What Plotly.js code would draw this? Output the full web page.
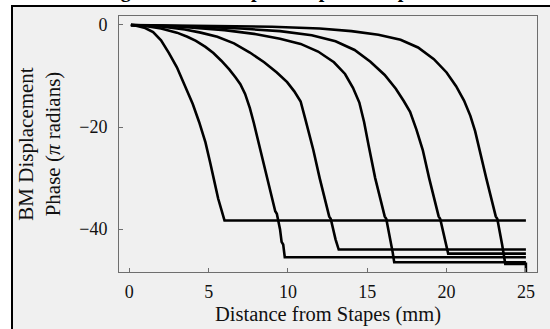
<!DOCTYPE html>
<html>
<head>
<meta charset="utf-8">
<script src="https://cdn.plot.ly/plotly-3.0.1.min.js"></script>
<style>
html,body{margin:0;padding:0;background:#fff;}
#chart{width:550px;height:329px;}
</style>
</head>
<body>
<div id="chart"></div>
<script>
// Distance from stapes (mm) and BM displacement phase (pi radians) for six curves
const x1 = [0.1, 0.5, 1.0, 1.5, 2.0, 2.5, 3.0, 3.5, 4.0, 4.4, 4.8, 5.1, 5.3, 5.35, 5.6, 5.7, 5.85, 6.0, 25];
const y1 = [0, -0.2, -0.6, -1.4, -3.0, -5.5, -8.3, -11.8, -15.5, -19.0, -23.0, -27.0, -29.5, -30.5, -34.0, -35.0, -37.0, -38.3, -38.3];

const x2 = [0.1, 1.0, 2.0, 3.0, 3.66, 4.2, 4.8, 5.3, 5.8, 6.3, 6.7, 7.0, 7.3, 7.6, 7.85, 8.27, 8.7, 9.0, 9.2, 9.3, 9.5, 9.6, 9.7, 9.8, 25];
const y2 = [0, -0.2, -0.7, -1.5, -2.3, -3.1, -4.3, -5.5, -7.0, -8.7, -10.3, -11.6, -13.5, -16.3, -19.2, -24.5, -30.0, -34.0, -36.5, -37.0, -40.0, -42.5, -43.0, -45.5, -45.5];

const x3 = [0.1, 2.0, 3.5, 4.5, 5.55, 6.6, 7.6, 8.5, 9.3, 9.95, 10.4, 10.8, 11.1, 11.6, 12.0, 12.4, 12.6, 12.7, 12.9, 13.0, 13.2, 25];
const y3 = [0, -0.3, -0.9, -1.5, -2.3, -3.6, -5.4, -7.3, -9.3, -11.2, -13.0, -15.0, -18.5, -24.5, -30.0, -35.0, -37.5, -38.0, -41.0, -42.0, -44.0, -44.0];

const x4 = [0.1, 3.0, 6.0, 8.0, 9.5, 10.8, 11.9, 12.9, 13.6, 14.1, 14.5, 14.8, 15.08, 15.5, 15.9, 16.1, 16.2, 16.4, 16.5, 16.6, 16.7, 25];
const y4 = [0, -0.3, -1.0, -1.8, -2.7, -3.7, -5.2, -7.3, -9.6, -12.3, -15.2, -19.0, -23.5, -30.0, -35.0, -37.5, -38.0, -41.0, -43.0, -44.5, -46.5, -46.5];

const x5 = [0.1, 4.0, 7.0, 9.5, 11.5, 13.0, 14.2, 15.2, 16.1, 16.8, 17.3, 17.7, 18.1, 18.5, 18.9, 19.3, 19.5, 19.6, 19.8, 19.95, 20.1, 25];
const y5 = [0, -0.3, -0.7, -1.2, -2.0, -3.2, -4.9, -7.2, -9.8, -12.5, -14.9, -17.0, -20.5, -24.5, -30.0, -35.0, -37.5, -38.0, -41.0, -43.0, -44.8, -44.8];

const x6 = [0.1, 5.0, 9.0, 12.0, 14.0, 15.7, 17.1, 18.2, 19.2, 20.0, 20.6, 21.1, 21.5, 21.8, 22.1, 22.5, 22.9, 23.1, 23.2, 23.4, 23.5, 23.7, 25, 25];
const y6 = [0, -0.15, -0.35, -0.7, -1.2, -1.9, -2.9, -4.4, -6.7, -9.3, -12.0, -14.8, -17.8, -20.8, -24.5, -30.0, -35.0, -37.5, -38.0, -41.0, -43.0, -46.8, -46.8, -50];

const xTicks = [0, 5, 10, 15, 20, 25];
const yTicks = [0, -20, -40];
const yTickText = ['0', '\u221220', '\u221240'];

const seriesX = [x1, x2, x3, x4, x5, x6];
const seriesY = [y1, y2, y3, y4, y5, y6];

const traces = seriesX.map((xs, i) => ({
  x: xs, y: seriesY[i], type: 'scatter', mode: 'lines',
  line: {color: '#000', width: 2.6}, hoverinfo: 'skip', showlegend: false
}));

const L = 119, R = 537, T = 16, B = 272, W = 550, H = 329;
const px = v => (v - L) / (R - L);
const py = v => (B - v) / (B - T);

const serif = 'Liberation Serif, Times New Roman, serif';

const layout = {
  width: W, height: H,
  margin: {l: L, r: W - R, t: T, b: H - B, pad: 0},
  paper_bgcolor: '#f0f0f0', plot_bgcolor: '#f0f0f0',
  font: {family: serif, color: '#111', size: 18},
  showlegend: false,
  xaxis: {
    range: [-0.65, 25.7], tickvals: xTicks, ticktext: xTicks.map(String),
    showgrid: false, zeroline: false, showline: true, mirror: true,
    linecolor: '#6e6e6e', linewidth: 1, ticks: 'inside', ticklen: 4, tickcolor: '#6e6e6e',
    tickfont: {family: serif, size: 18, color: '#111'}, ticklabelstandoff: 3,
    title: {text: 'Distance from Stapes (mm)', font: {family: serif, size: 20.5, color: '#111'}, standoff: 6},
    automargin: false
  },
  yaxis: {
    range: [-48.4, 1.76], tickvals: yTicks, ticktext: yTickText,
    showgrid: false, zeroline: false, showline: true, mirror: true,
    linecolor: '#6e6e6e', linewidth: 1, ticks: 'inside', ticklen: 4, tickcolor: '#6e6e6e',
    tickfont: {family: serif, size: 18, color: '#111'}, ticklabelstandoff: 7,
    title: {text: 'BM Displacement<br>Phase (<i>\u03c0</i> radians)', font: {family: serif, size: 21, color: '#111'}, standoff: 12},
    automargin: false
  },
  shapes: [
    {type: 'rect', xref: 'paper', yref: 'paper', x0: px(0), x1: px(W), y0: py(6), y1: py(-2), fillcolor: '#fff', line: {width: 0}, layer: 'below'},
    {type: 'rect', xref: 'paper', yref: 'paper', x0: px(-2), x1: px(12), y0: py(H + 2), y1: py(-2), fillcolor: '#fff', line: {width: 0}, layer: 'below'},
    {type: 'line', xref: 'paper', yref: 'paper', x0: px(12), x1: px(12), y0: py(5), y1: py(H + 2), line: {color: '#000', width: 2}},
    {type: 'line', xref: 'paper', yref: 'paper', x0: px(11), x1: px(W + 2), y0: py(6), y1: py(6), line: {color: '#000', width: 2}}
  ],
  annotations: [
    {text: '<b>Figure 4.5: Example BM phase response</b>', xref: 'paper', yref: 'paper',
     x: px(275), y: py(-10), xanchor: 'center', yanchor: 'middle', showarrow: false,
     font: {family: serif, size: 20, color: '#000'}}
  ]
};

Plotly.newPlot('chart', traces, layout, {displayModeBar: false, staticPlot: true});
</script>
</body>
</html>
